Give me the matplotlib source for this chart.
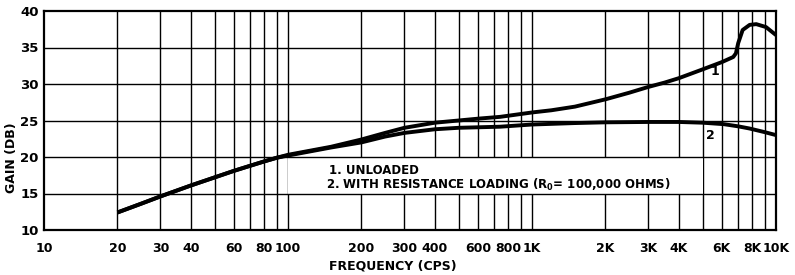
import matplotlib
matplotlib.use("Agg")
import matplotlib.pyplot as plt
from matplotlib.patches import Rectangle

plt.rcParams['font.family'] = ['DejaVu Sans']
plt.rcParams['font.weight'] = 'bold'

# curve 1: unloaded
freq_1 = [20, 25, 30, 40, 50, 60, 70, 80, 90, 100, 150, 200, 250, 300, 400, 500,
          600, 740, 1000, 1200, 1500, 2000, 2500, 3000, 3500, 4000, 5000, 6000,
          6680, 6850, 7000, 7300, 7800, 8300, 9100, 10000]
gain_1 = [12.4, 13.6, 14.6, 16.1, 17.2, 18.1, 18.8, 19.4, 19.9, 20.3, 21.4, 22.4,
          23.3, 24.0, 24.7, 25.0, 25.25, 25.5, 26.1, 26.4, 26.9, 27.9, 28.8, 29.6,
          30.2, 30.8, 32.0, 33.0, 33.7, 34.2, 35.6, 37.4, 38.1, 38.2, 37.8, 36.7]

# curve 2: with resistance loading
freq_2 = [20, 25, 30, 40, 50, 60, 70, 80, 90, 100, 150, 200, 250, 300, 400, 500,
          740, 1000, 1500, 2000, 3000, 4000, 5000, 6100, 7000, 7800, 9000, 10000]
gain_2 = [12.4, 13.6, 14.6, 16.1, 17.2, 18.1, 18.8, 19.4, 19.9, 20.2, 21.3, 22.0,
          22.8, 23.3, 23.8, 24.0, 24.15, 24.45, 24.65, 24.75, 24.8, 24.8, 24.7,
          24.5, 24.2, 23.9, 23.4, 23.0]

grid_freqs = [20, 30, 40, 50, 60, 70, 80, 90, 100,
              200, 300, 400, 500, 600, 700, 800, 900, 1000,
              2000, 3000, 4000, 5000, 6000, 7000, 8000, 9000]
tick_freqs = [10, 20, 30, 40, 60, 80, 100, 200, 300, 400, 600, 800, 1000,
              2000, 3000, 4000, 6000, 8000, 10000]
tick_labels = ["10", "20", "30", "40", "60", "80", "100", "200", "300", "400",
               "600", "800", "1K", "2K", "3K", "4K", "6K", "8K", "10K"]
gain_ticks = [10, 15, 20, 25, 30, 35, 40]

fig = plt.figure(figsize=(7.95, 2.75), dpi=100)
ax = fig.add_axes([44 / 795, 1 - 230 / 275, 732 / 795, 219 / 275])
ax.set_xscale("log")
ax.set_xlim(10, 10000)
ax.set_ylim(10, 40)

# grid drawn by hand so the legend box can blank the vertical lines only
ax.vlines(grid_freqs, 10, 40, colors="black", lw=1.0, zorder=1)
ax.hlines(gain_ticks[1:-1], 10, 10000, colors="black", lw=1.0, zorder=3)
ax.add_patch(Rectangle((100, 15), 5000 - 100, 5, facecolor="white",
                       edgecolor="none", zorder=2))

ax.plot(freq_1, gain_1, color="black", lw=2.8, solid_joinstyle="round",
        solid_capstyle="butt", zorder=4)
ax.plot(freq_2, gain_2, color="black", lw=2.8, solid_joinstyle="round",
        solid_capstyle="butt", zorder=4)

ax.text(5620, 31.7, "1", ha="center", va="center", fontsize=9, zorder=5)
ax.text(5400, 23.0, "2", ha="center", va="center", fontsize=9, zorder=5)
ax.text(147, 17.7, "1. UNLOADED", ha="left", va="baseline", fontsize=8.5, zorder=5)
ax.text(143, 15.6, r"2. WITH RESISTANCE LOADING (R$_{\mathbf{0}}$= 100,000 OHMS)",
        ha="left", va="baseline", fontsize=8.5, zorder=5)

ax.set_xticks(tick_freqs)
ax.set_xticklabels(tick_labels)
ax.xaxis.set_minor_locator(plt.NullLocator())
ax.set_yticks(gain_ticks)
ax.tick_params(axis="x", length=0, pad=9, labelsize=9)
ax.tick_params(axis="y", length=0, pad=4, labelsize=9.5)
for lbl in ax.get_xticklabels() + ax.get_yticklabels():
    lbl.set_fontweight("bold")

for sp in ax.spines.values():
    sp.set_linewidth(1.6)
    sp.set_zorder(6)

fig.text(12 / 795, 1 - 158 / 275, "GAIN (DB)", rotation=90, ha="center",
         va="center", fontsize=9)
fig.text(393 / 795, 1 - 266 / 275, "FREQUENCY (CPS)", ha="center",
         va="center", fontsize=9)

fig.savefig("out.png", dpi=100)
